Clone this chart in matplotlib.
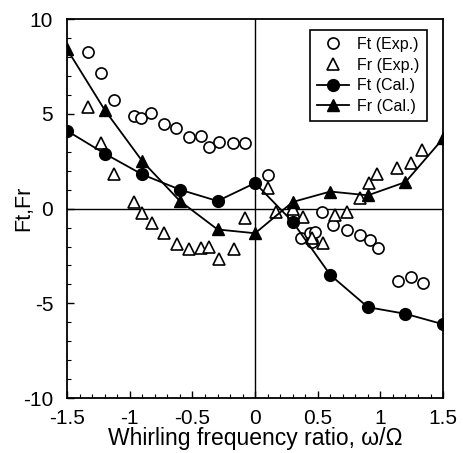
import numpy as np
import matplotlib
matplotlib.use("Agg")
import matplotlib.pyplot as plt
from matplotlib.ticker import MultipleLocator

plt.rcParams['font.family'] = ['Liberation Sans', 'DejaVu Sans']

# Calculated forces (line + filled markers)
x_cal = [-1.5, -1.2, -0.9, -0.6, -0.3, 0.0, 0.3, 0.6, 0.9, 1.2, 1.5]
ft_cal = [4.1, 2.9, 1.8, 1.0, 0.4, 1.35, -0.7, -3.5, -5.2, -5.55, -6.1]
fr_cal = [8.4, 5.2, 2.5, 0.4, -1.1, -1.3, 0.35, 0.9, 0.7, 1.4, 3.7]

# Experimental tangential force
x_ft_exp = [-1.33, -1.23, -1.13, -0.97, -0.91, -0.83, -0.73, -0.63, -0.53, -0.43,
            -0.37, -0.29, -0.18, -0.08, 0.1, 0.3, 0.37, 0.44, 0.45, 0.48,
            0.53, 0.62, 0.73, 0.84, 0.92, 0.98, 1.14, 1.24, 1.34]
ft_exp = [8.25, 7.15, 5.72, 4.89, 4.76, 5.04, 4.46, 4.25, 3.77, 3.83,
          3.25, 3.51, 3.46, 3.46, 1.77, -0.45, -1.56, -1.29, -1.77, -1.24,
          -0.2, -0.87, -1.13, -1.4, -1.66, -2.1, -3.83, -3.6, -3.9]

# Experimental radial force
x_fr_exp = [-1.33, -1.23, -1.13, -0.97, -0.9, -0.82, -0.73, -0.62, -0.53, -0.43,
            -0.37, -0.29, -0.17, -0.08, 0.1, 0.17, 0.3, 0.38, 0.45, 0.54,
            0.64, 0.73, 0.84, 0.91, 0.97, 1.13, 1.24, 1.33]
fr_exp = [5.36, 3.46, 1.82, 0.34, -0.24, -0.74, -1.29, -1.87, -2.14, -2.1,
          -2.0, -2.67, -2.14, -0.5, 1.08, -0.2, 0.0, -0.45, -1.56, -1.82,
          -0.34, -0.18, 0.58, 1.35, 1.8, 2.14, 2.43, 3.09]

fig = plt.figure(figsize=(4.63, 4.53), dpi=100)
ax = fig.add_axes([0.145, 0.121, 0.812, 0.837])

ax.axhline(0, color='black', lw=1.0, zorder=1)
ax.axvline(0, color='black', lw=1.0, zorder=1)

ax.plot(x_ft_exp, ft_exp, linestyle='none', marker='o', ms=8, mfc='white',
        mec='black', mew=1.2, label='Ft (Exp.)', zorder=3)
ax.plot(x_fr_exp, fr_exp, linestyle='none', marker='^', ms=8.5, mfc='white',
        mec='black', mew=1.2, label='Fr (Exp.)', zorder=3)
ax.plot(x_cal, ft_cal, color='black', lw=1.3, marker='o', ms=8.5, mfc='black',
        mec='black', label='Ft (Cal.)', zorder=4)
ax.plot(x_cal, fr_cal, color='black', lw=1.3, marker='^', ms=8.5, mfc='black',
        mec='black', label='Fr (Cal.)', zorder=4)

ax.set_xlim(-1.5, 1.5)
ax.set_ylim(-10, 10)
ax.set_xticks([-1.5, -1, -0.5, 0, 0.5, 1, 1.5])
ax.set_xticklabels(['-1.5', '-1', '-0.5', '0', '0.5', '1', '1.5'])
ax.set_yticks([-10, -5, 0, 5, 10])
ax.set_yticklabels(['-10', '-5', '0', '5', '10'])
ax.xaxis.set_minor_locator(MultipleLocator(0.1))
ax.yaxis.set_minor_locator(MultipleLocator(1))
ax.tick_params(which='major', direction='in', length=5, width=1.0,
               labelsize=15, pad=8)
ax.tick_params(which='minor', direction='in', length=3, width=0.8)
ax.tick_params(axis='y', which='major', pad=10)
for s in ax.spines.values():
    s.set_linewidth(1.3)

ax.set_xlabel('Whirling frequency ratio, ω/Ω', fontsize=16.5, labelpad=-1)
ax.set_ylabel('Ft,Fr', fontsize=15.5, labelpad=-8)

leg = ax.legend(loc='upper right', bbox_to_anchor=(0.965, 0.98), fontsize=11.5,
                frameon=True, fancybox=False, framealpha=1, edgecolor='black',
                labelspacing=0.35, handlelength=2.0, handletextpad=0.5,
                borderpad=0.45, borderaxespad=0.2)
leg.get_frame().set_linewidth(1.2)

fig.savefig('out.png', dpi=100)
